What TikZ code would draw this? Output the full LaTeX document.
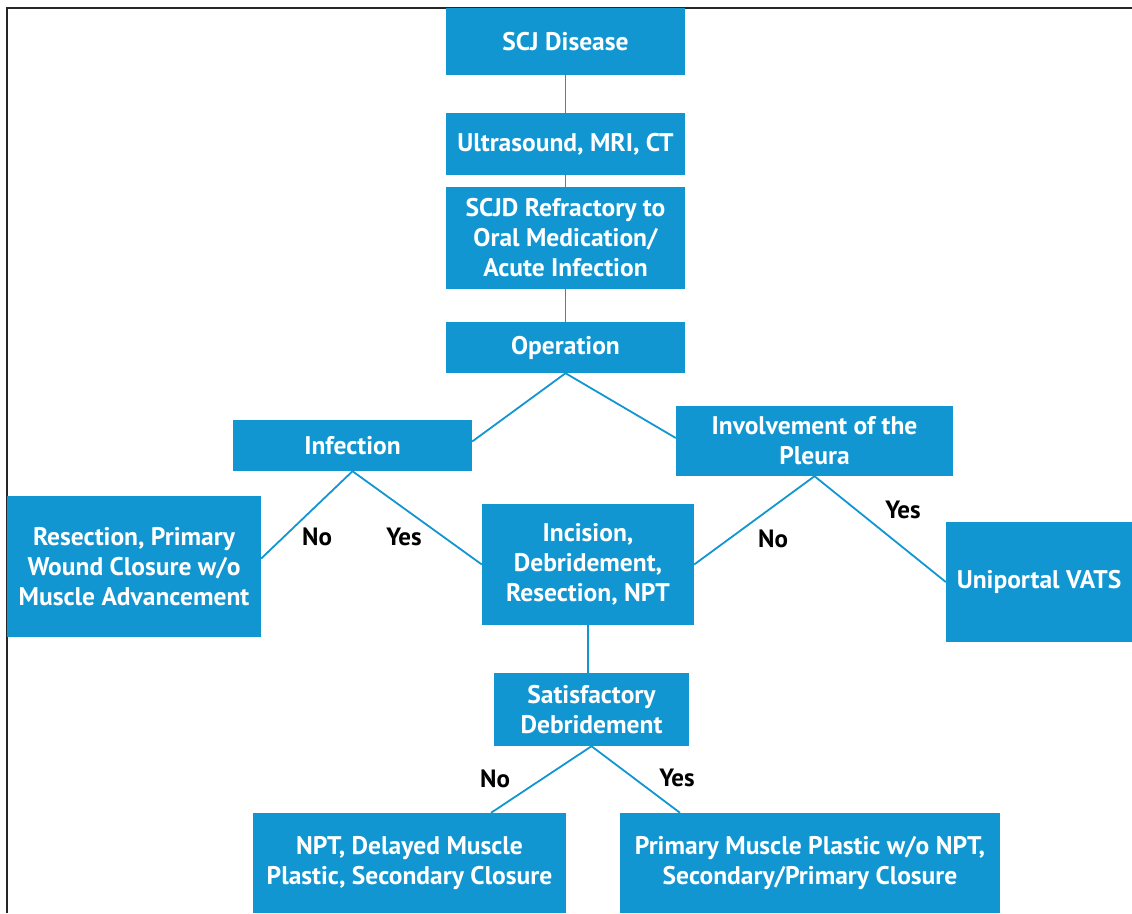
\documentclass[tikz,border=0pt]{standalone}
\usepackage{fontspec}
\setmainfont{PT Sans}
\usetikzlibrary{calc}
\definecolor{boxblue}{RGB}{18,150,210}
\tikzset{
  flowbox/.style={fill=boxblue, draw=none, text=white, font=\bfseries\fontsize{25.5}{30}\selectfont,
    align=center, inner sep=0pt, anchor=center},
  conn/.style={draw=boxblue, line width=1.8pt},
  lbl/.style={font=\bfseries\fontsize{25}{28}\selectfont, text=black, inner sep=0pt},
  frameline/.style={draw=black!85, line width=1.8pt}
}
\begin{document}
\begin{tikzpicture}[x=1pt,y=-1pt]
\useasboundingbox (0,0) rectangle (1132,913);
\draw[frameline] (7,913) -- (7,8) -- (1132,8);

\node[flowbox, minimum width=239pt, minimum height=67pt] (scj) at (565.5,41.5) {SCJ Disease};
\node[flowbox, minimum width=239pt, minimum height=62pt] (us) at (565.5,144) {Ultrasound, MRI, CT};
\node[flowbox, minimum width=239pt, minimum height=102pt] (ref) at (565.5,238) {SCJD Refractory to\\Oral Medication/\\Acute Infection};
\node[flowbox, minimum width=239pt, minimum height=51pt] (op) at (565.5,347.5) {Operation};
\node[flowbox, minimum width=239pt, minimum height=51pt] (inf) at (352.5,445.5) {Infection};
\node[flowbox, minimum width=277pt, minimum height=70pt] (inv) at (814.5,441) {Involvement of the\\Pleura};
\node[flowbox, minimum width=254pt, minimum height=141pt] (res) at (134,566.5) {Resection, Primary\\Wound Closure w/o\\Muscle Advancement};
\node[flowbox, minimum width=212pt, minimum height=121pt] (inc) at (588,564.5) {Incision,\\Debridement,\\Resection, NPT};
\node[flowbox, minimum width=186pt, minimum height=120pt] (uni) at (1039,582) {Uniportal VATS};
\node[flowbox, minimum width=195pt, minimum height=73pt] (sat) at (591.5,709.5) {Satisfactory\\Debridement};
\node[flowbox, minimum width=313pt, minimum height=100pt] (npt) at (409.5,863) {NPT, Delayed Muscle\\Plastic, Secondary Closure};
\node[flowbox, minimum width=380pt, minimum height=100pt] (pm) at (810,863) {Primary Muscle Plastic w/o NPT,\\Secondary/Primary Closure};

\draw[conn] (scj.south) -- (us.north);
\draw[conn] (us.south) -- (ref.north);
\draw[conn] (ref.south) -- (op.north);
\draw[conn] (op.south) -- ([yshift=4pt]inf.east);
\draw[conn] (op.south) -- ([yshift=3pt]inv.west);
\draw[conn] (inf.south) -- ([yshift=8pt]res.east);
\draw[conn] (inf.south) -- (inc.west);
\draw[conn] (inv.south) -- (inc.east);
\draw[conn] (inv.south) -- (uni.west);
\draw[conn] (inc.south) -- (inc.south |- sat.north);
\draw[conn] (sat.south) -- ([xshift=81.5pt]npt.north);
\draw[conn] (sat.south) -- ([xshift=-130pt]pm.north);

\node[lbl] (l1) at (317,537) {No};
\node[lbl] (l2) at (404,537) {Yes};
\node[lbl] (l3) at (773,539) {No};
\node[lbl] (l4) at (903,510) {Yes};
\node[lbl] (l5) at (495,779) {No};
\node[lbl] (l6) at (677,778) {Yes};
\end{tikzpicture}
\end{document}
